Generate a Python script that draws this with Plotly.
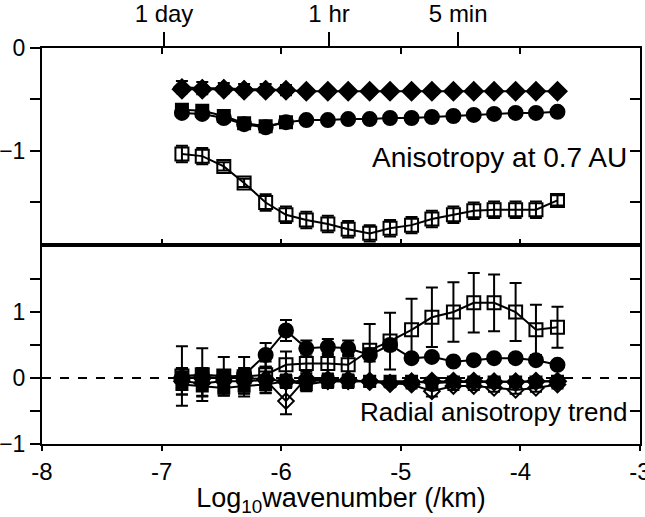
import plotly.graph_objects as go

# ---------------- data ----------------
log_k = [-6.83, -6.66, -6.48, -6.31, -6.13, -5.96, -5.79, -5.61, -5.44, -5.26,
         -5.09, -4.91, -4.74, -4.56, -4.39, -4.22, -4.04, -3.87, -3.69]

# top panel: anisotropy at 0.7 AU
top_open_sq = [-1.03, -1.05, -1.15, -1.31, -1.50, -1.62, -1.67, -1.71, -1.76, -1.80,
               -1.75, -1.72, -1.66, -1.62, -1.58, -1.57, -1.57, -1.57, -1.48]
top_open_sq_err = [0.08, 0.08, 0.04, 0.04, 0.08, 0.08, 0.08, 0.08, 0.08, 0.08,
                   0.08, 0.08, 0.08, 0.08, 0.08, 0.08, 0.08, 0.08, 0.05]
top_circle = [-0.63, -0.64, -0.68, -0.74, -0.77, -0.72, -0.70, -0.70, -0.69, -0.69,
              -0.68, -0.68, -0.67, -0.66, -0.65, -0.64, -0.63, -0.63, -0.62]
top_circle_err = [0.04, 0.04, 0.03, 0.02, 0.02, 0.02, 0.02, 0.02, 0.02, 0.02,
                  0.02, 0.02, 0.02, 0.02, 0.02, 0.02, 0.02, 0.02, 0.02]
top_diamond = [-0.40, -0.40, -0.40, -0.41, -0.41, -0.41, -0.42, -0.42, -0.42, -0.42,
               -0.42, -0.42, -0.42, -0.42, -0.42, -0.42, -0.42, -0.42, -0.42]
top_diamond_err = [0.02, 0.02, 0.02, 0.02, 0.02, 0.02, 0.02, 0.02, 0.02, 0.02,
                   0.02, 0.02, 0.02, 0.02, 0.02, 0.02, 0.02, 0.02, 0.02]
top_open_diamond = [-0.38, -0.39, -0.39, -0.40, -0.40, -0.41]
top_open_diamond_err = [0.06, 0.06, 0.05, 0.05, 0.05, 0.05]
top_square = [-0.60, -0.61, -0.66, -0.73, -0.76, -0.72]
top_square_err = [0.05, 0.05, 0.03, 0.03, 0.03, 0.03]

# bottom panel: radial anisotropy trend
bot_open_sq = [0.03, 0.05, 0.03, 0.02, 0.05, 0.20, 0.22, 0.22, 0.20, 0.42,
               0.56, 0.73, 0.92, 1.00, 1.14, 1.14, 1.00, 0.73, 0.77]
bot_open_sq_err = [0.45, 0.40, 0.29, 0.30, 0.20, 0.20, 0.15, 0.15, 0.15, 0.40,
                   0.43, 0.47, 0.45, 0.45, 0.45, 0.43, 0.44, 0.38, 0.31]
bot_circle = [0.00, 0.02, 0.00, 0.05, 0.35, 0.72, 0.45, 0.47, 0.45, 0.35,
              0.50, 0.30, 0.32, 0.25, 0.27, 0.30, 0.30, 0.27, 0.20]
bot_circle_err = [0.10, 0.10, 0.08, 0.10, 0.18, 0.16, 0.12, 0.12, 0.12, 0.10,
                  0.08, 0.05, 0.05, 0.05, 0.05, 0.05, 0.05, 0.05, 0.05]
bot_diamond = [0.00, 0.00, 0.00, 0.00, -0.02, -0.05, -0.05, -0.03, -0.03, -0.05,
               -0.08, -0.06, -0.05, -0.05, -0.05, -0.06, -0.06, -0.05, -0.05]
bot_diamond_err = [0.15, 0.15, 0.12, 0.12, 0.12, 0.10, 0.08, 0.08, 0.08, 0.08,
                   0.05, 0.05, 0.05, 0.05, 0.05, 0.05, 0.05, 0.05, 0.05]
bot_open_diamond = [-0.05, -0.08, -0.05, -0.05, -0.03, -0.35, 0.00, -0.05, -0.05, -0.05,
                    -0.08, -0.10, -0.20, -0.12, -0.12, -0.15, -0.18, -0.15, -0.10]
bot_open_diamond_err = [0.20, 0.20, 0.15, 0.18, 0.20, 0.20, 0.10, 0.10, 0.10, 0.08,
                        0.06, 0.06, 0.08, 0.06, 0.06, 0.06, 0.06, 0.06, 0.06]
bot_square = [-0.10, -0.12, -0.15, -0.12, -0.10, -0.05, -0.10, -0.05, -0.05, -0.05,
              -0.05, -0.05, -0.08, -0.06, -0.06, -0.06, -0.06, -0.06, -0.05]
bot_square_err = [0.15, 0.15, 0.12, 0.12, 0.12, 0.10, 0.10, 0.08, 0.08, 0.08,
                  0.05, 0.05, 0.08, 0.05, 0.05, 0.05, 0.05, 0.05, 0.05]

top_tick_vals = [-6.98, -5.60, -4.52]
top_tick_text = ["1 day", "1 hr", "5 min"]
x_tick_vals = [-8, -7, -6, -5, -4, -3]
top_y_ticks = [0, -1]
top_y_minor = [-0.5, -1.5]
bot_y_ticks = [-1, 0, 1]
bot_y_minor = [-0.5, 0.5, 1.5]

FONT = "Liberation Sans, Arial, Helvetica, sans-serif"
BLK = "black"

fig = go.Figure()


def add(xs, ys, err, symbol, size, yaxis, lw=2):
    fig.add_trace(go.Scatter(
        x=xs, y=ys, mode="lines+markers", xaxis="x" if yaxis == "y" else "x2", yaxis=yaxis,
        line=dict(color=BLK, width=lw),
        marker=dict(symbol=symbol, size=size, color=BLK,
                    line=dict(color=BLK, width=2)),
        error_y=dict(type="data", array=err, color=BLK, thickness=2, width=6, visible=True),
        showlegend=False, cliponaxis=True,
    ))


# top panel
add(log_k, top_circle, top_circle_err, "circle", 14, "y")
add(log_k[:6], top_square, top_square_err, "square", 12, "y")
add(log_k, top_diamond, top_diamond_err, "diamond", 14, "y")
add(log_k[:6], top_open_diamond, top_open_diamond_err, "diamond-open", 12, "y")
add(log_k, top_open_sq, top_open_sq_err, "square-open", 13, "y")

# bottom panel
add(log_k, bot_square, bot_square_err, "square", 11, "y2")
add(log_k, bot_diamond, bot_diamond_err, "diamond", 13, "y2")
add(log_k, bot_open_diamond, bot_open_diamond_err, "diamond-open", 12, "y2")
add(log_k, bot_circle, bot_circle_err, "circle", 14, "y2")
add(log_k, bot_open_sq, bot_open_sq_err, "square-open", 13, "y2")

split = 0.5025
axis_common = dict(showgrid=False, zeroline=False, linecolor=BLK, linewidth=2,
                   tickcolor=BLK, tickwidth=2, automargin=False)


def tf(size):
    return dict(family=FONT, size=size, color=BLK)


fig.update_layout(
    width=645, height=517,
    margin=dict(l=42, r=5, t=48, b=73),
    paper_bgcolor="white", plot_bgcolor="white",
    font=dict(family=FONT, color=BLK),
    xaxis=dict(range=[-8, -3], domain=[0, 1], anchor="y", tickvals=x_tick_vals,
               showticklabels=False, ticks="inside", ticklen=6, showline=True,
               mirror="ticks", **axis_common),
    xaxis2=dict(range=[-8, -3], domain=[0, 1], anchor="y2", tickvals=x_tick_vals,
                ticktext=[str(v) for v in x_tick_vals], ticks="outside", ticklen=5,
                showline=True, mirror=True, ticklabeloverflow="allow", tickfont=tf(24),
                title=dict(text="Log<sub>10</sub>wavenumber (/km)",
                           font=tf(27), standoff=7),
                **axis_common),
    xaxis3=dict(range=[-8, -3], overlaying="x", anchor="y", side="top",
                tickvals=top_tick_vals, ticktext=top_tick_text, ticks="outside",
                ticklen=15, showline=False, tickfont=tf(24), **axis_common),
    yaxis=dict(range=[-1.913, 0], domain=[split, 1], anchor="x",
               tickvals=top_y_ticks, ticks="outside", ticklen=10, showline=True,
               mirror=True, tickfont=tf(23),
               minor=dict(tickvals=top_y_minor, ticks="outside", ticklen=10,
                          tickwidth=2, tickcolor=BLK),
               **axis_common),
    yaxis3=dict(range=[-1.913, 0], overlaying="y", anchor="x", side="right",
                tickvals=top_y_ticks + top_y_minor, showticklabels=False,
                ticks="inside", ticklen=10, showline=False, **axis_common),
    yaxis2=dict(range=[-1, 2.015], domain=[0, split], anchor="x2",
                tickvals=bot_y_ticks, ticks="outside", ticklen=10, showline=True,
                mirror=True, tickfont=tf(23),
                minor=dict(tickvals=bot_y_minor, ticks="outside", ticklen=10,
                           tickwidth=2, tickcolor=BLK),
                **axis_common),
    yaxis4=dict(range=[-1, 2.015], overlaying="y2", anchor="x2", side="right",
                tickvals=bot_y_ticks + bot_y_minor, showticklabels=False,
                ticks="inside", ticklen=10, showline=False, **axis_common),
    shapes=[dict(type="line", xref="x2", yref="y2", x0=-8, x1=-3, y0=0, y1=0,
                 line=dict(color=BLK, width=2, dash="dash"), layer="below")],
    annotations=[
        dict(text="Anisotropy at 0.7 AU", xref="x", yref="y", x=-3.09, y=-1.06,
             xanchor="right", yanchor="middle", showarrow=False, font=tf(28)),
        dict(text="Radial anisotropy trend", xref="x2", yref="y2", x=-3.09, y=-0.52,
             xanchor="right", yanchor="middle", showarrow=False, font=tf(26)),
    ],
)

# invisible anchor traces so the overlay axes render
fig.add_trace(go.Scatter(x=[-5], y=[-1], xaxis="x3", yaxis="y", mode="markers",
                         marker=dict(opacity=0), showlegend=False, hoverinfo="skip"))
fig.add_trace(go.Scatter(x=[-5], y=[-1], xaxis="x", yaxis="y3", mode="markers",
                         marker=dict(opacity=0), showlegend=False, hoverinfo="skip"))
fig.add_trace(go.Scatter(x=[-5], y=[0], xaxis="x2", yaxis="y4", mode="markers",
                         marker=dict(opacity=0), showlegend=False, hoverinfo="skip"))

fig.write_html("out.html")
